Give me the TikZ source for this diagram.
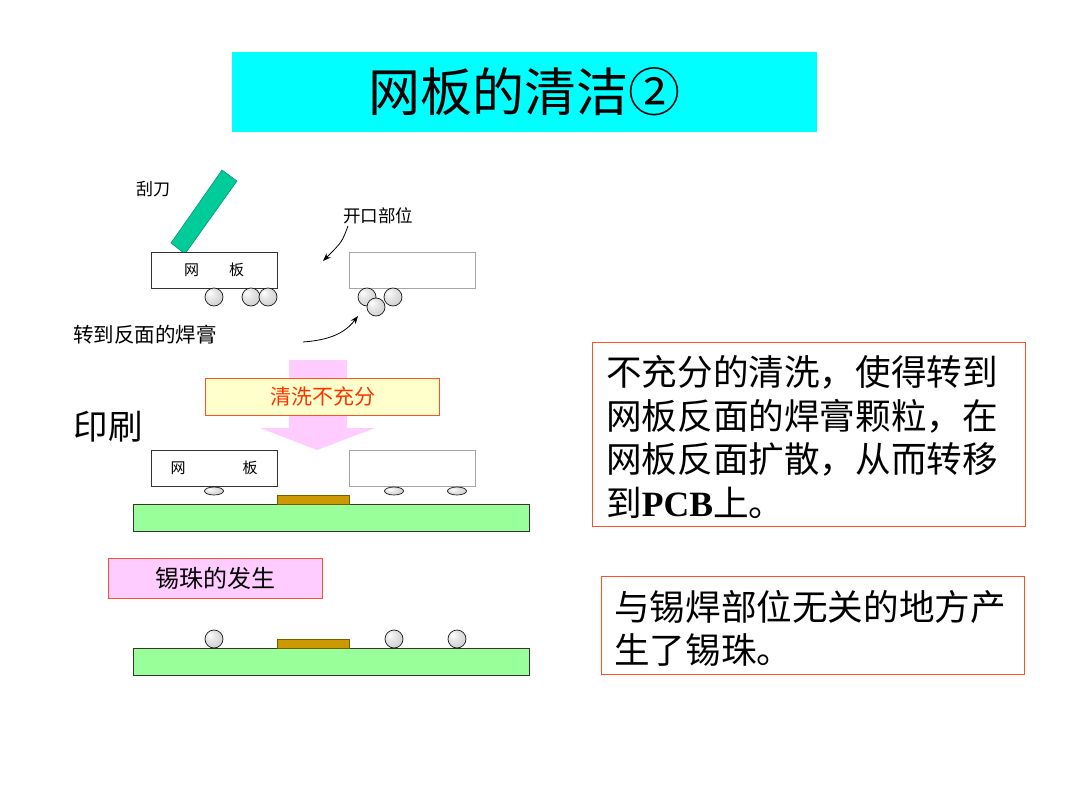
\documentclass[tikz,border=0pt]{standalone}
\usepackage{fontspec}
\setmainfont{Noto Sans CJK SC}
\newfontfamily\latinserif{Liberation Serif}
\usetikzlibrary{arrows.meta,shapes.geometric}
\definecolor{titlecyan}{RGB}{0,255,255}
\definecolor{sqgreen}{RGB}{0,204,153}
\definecolor{pcbgreen}{RGB}{153,255,153}
\definecolor{padbrown}{RGB}{204,153,0}
\definecolor{pinkfill}{RGB}{255,204,255}
\definecolor{boxred}{RGB}{255,80,40}
\definecolor{yellowfill}{RGB}{255,255,204}
\definecolor{redtext}{RGB}{255,51,0}
\pgfdeclareradialshading{lightball}{\pgfpoint{-12bp}{12bp}}{%
  color(0bp)=(white); color(12bp)=(gray!18); color(40bp)=(gray!45); color(60bp)=(gray!60)}
\tikzset{
  netbox/.style={draw=gray!40!black, fill=white, minimum width=126pt, minimum height=36pt, inner sep=0pt, line width=0.8pt},
  netboxlight/.style={draw=gray!70, fill=white, minimum width=126pt, minimum height=36pt, inner sep=0pt, line width=0.8pt},
  solderball/.style={circle, minimum size=18pt, inner sep=0pt, shading=lightball, draw=gray!20!black, line width=0.7pt},
  flatball/.style={ellipse, minimum width=19pt, minimum height=8pt, inner sep=0pt, shading=lightball, draw=gray!20!black, line width=0.7pt},
  lbl/.style={inner sep=0pt, text=black},
  redbox/.style={draw=boxred, line width=0.9pt},
  conn/.style={-{Stealth[length=8pt,width=6pt]}, line width=0.8pt, black},
}
\begin{document}
\begin{tikzpicture}[x=1pt,y=-1pt]
\useasboundingbox (0,0) rectangle (1077,805);
\fill[white] (0,0) rectangle (1077,805);

% title
\node[fill=titlecyan, minimum width=585pt, minimum height=80pt, inner sep=0pt] (title) at (524.5,92) {\fontsize{52}{52}\selectfont 网板的清洁②};

% squeegee
\filldraw[fill=sqgreen, draw=sqgreen!70!black, line width=0.5pt] (171,243) -- (185,254) -- (237,181) -- (222,170) -- cycle;
\node[lbl, font=\fontsize{17}{17}\selectfont] (squeegee) at (153,189) {刮刀};

% stage 1 stencil
\node[netbox] (net1) at (214,270) {};
\node[lbl, font=\fontsize{15}{15}\selectfont] (net1t) at (214,270) {网\hspace{30pt}板};
\node[netboxlight] (net1r) at (412,270) {};
\node[solderball] (b1) at (214,297) {};
\node[solderball] (b2) at (251,297) {};
\node[solderball] (b3) at (268,297) {};
\node[solderball] (b4) at (367,297) {};
\node[solderball] (b6) at (393,297) {};
\node[solderball] (b5) at (376,307) {};

\node[lbl, font=\fontsize{17.5}{17.5}\selectfont] (opening) at (378,216) {开口部位};
\coordinate (o1) at (348,226);
\coordinate (o2) at (323,261);
\draw[conn] (o1) .. controls (342,242) .. (o2);

\node[lbl, font=\fontsize{20.5}{20.5}\selectfont] (transfer) at (145,335) {转到反面的焊膏};
\coordinate (tr1) at (303,342);
\coordinate (tr2) at (358,316);
\draw[conn] (tr1) .. controls (330,340) and (345,333) .. (tr2);

% pink arrow
\fill[pinkfill] (289,360) -- (347,360) -- (347,428) -- (375,428) -- (317,450) -- (260,428) -- (289,428) -- cycle;
\node[redbox, fill=yellowfill, minimum width=234pt, minimum height=37pt, inner sep=0pt, text=redtext, font=\fontsize{21}{21}\selectfont] (wash) at (322.5,396.5) {清洗不充分};

\node[lbl, font=\fontsize{34.5}{34.5}\selectfont] (print) at (108,427) {印刷};

% stage 2
\node[netbox] (net2) at (214,468) {};
\node[lbl, font=\fontsize{15}{15}\selectfont] (net2t) at (214,468) {网\hspace{57pt}板};
\node[netboxlight] (net2r) at (412,468) {};
\node[flatball] (f1) at (214,491) {};
\node[flatball] (f2) at (394,491) {};
\node[flatball] (f3) at (457,491) {};
\filldraw[fill=pcbgreen, draw=gray!40!black, line width=0.6pt] (133,504) rectangle (529,531);
\filldraw[fill=padbrown, draw=padbrown!60!black, line width=0.6pt] (277,495) rectangle (349,504);

% stage 3
\node[redbox, fill=pinkfill, minimum width=214pt, minimum height=40pt, inner sep=0pt, font=\fontsize{24}{24}\selectfont] (beads) at (215,578) {锡珠的发生};
\filldraw[fill=pcbgreen, draw=gray!40!black, line width=0.6pt] (133,648) rectangle (529,675);
\filldraw[fill=padbrown, draw=padbrown!60!black, line width=0.6pt] (277,639) rectangle (349,648);
\node[solderball] (g1) at (214,639) {};
\node[solderball] (g2) at (394,639) {};
\node[solderball] (g3) at (457,639) {};

% right text boxes
\draw[redbox, fill=white] (592,342) rectangle (1025,526);
\node[lbl, anchor=base west, font=\fontsize{35.6}{35.6}\selectfont] (ta) at (606,385.5) {不充分的清洗，使得转到};
\node[lbl, anchor=base west, font=\fontsize{35.6}{35.6}\selectfont] (tb) at (606,429) {网板反面的焊膏颗粒，在};
\node[lbl, anchor=base west, font=\fontsize{35.6}{35.6}\selectfont] (tc) at (606,472.5) {网板反面扩散，从而转移};
\node[lbl, anchor=base west, font=\fontsize{35.6}{35.6}\selectfont] (td) at (606,516) {到{\latinserif\bfseries PCB}上。};

\draw[redbox, fill=white] (601,576) rectangle (1024,674);
\node[lbl, anchor=base west, font=\fontsize{35.6}{35.6}\selectfont] (te) at (614,620) {与锡焊部位无关的地方产};
\node[lbl, anchor=base west, font=\fontsize{35.6}{35.6}\selectfont] (tf) at (614,663.5) {生了锡珠。};
\end{tikzpicture}
\end{document}
